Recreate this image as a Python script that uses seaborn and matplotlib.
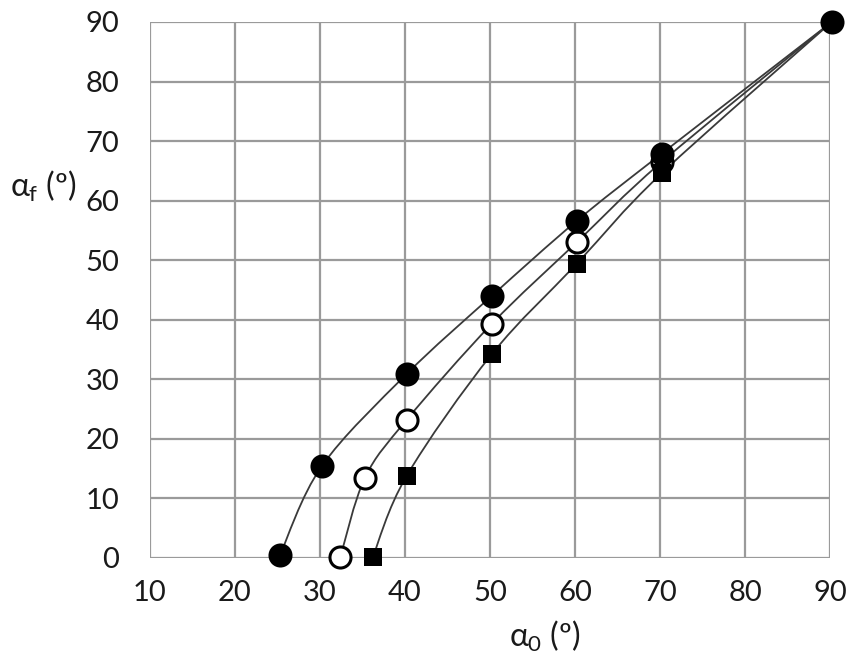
import numpy as np
import pandas as pd
import matplotlib
matplotlib.use('Agg')
import matplotlib.pyplot as plt
from matplotlib.path import Path
from matplotlib.patches import PathPatch
import seaborn as sns

# initial angle alpha_0 and final angle alpha_f (degrees)
a0_filled = [25.3, 30.2, 40.2, 50.2, 60.2, 70.2, 90.2]
af_filled = [0.5, 15.4, 30.9, 44.0, 56.6, 67.9, 90.0]

a0_open = [32.4, 35.3, 40.2, 50.2, 60.2, 70.2, 90.2]
af_open = [0.2, 13.5, 23.2, 39.3, 53.0, 66.5, 90.0]

a0_square = [36.2, 40.2, 50.2, 60.2, 70.2, 90.2]
af_square = [0.1, 13.8, 34.2, 49.4, 64.6, 90.0]

x_ticks = [10, 20, 30, 40, 50, 60, 70, 80, 90]
y_ticks = [0, 10, 20, 30, 40, 50, 60, 70, 80, 90]


def smooth_path(xs, ys):
    # Excel-style smoothed line: cubic Bezier with 1/6 tangents
    p = np.column_stack([xs, ys])
    n = len(p)
    verts = [p[0]]
    codes = [Path.MOVETO]
    for i in range(n - 1):
        prev = p[i - 1] if i > 0 else p[i]
        nxt = p[i + 2] if i + 2 < n else p[i + 1]
        c1 = p[i] + (p[i + 1] - prev) / 6.0
        c2 = p[i + 1] - (nxt - p[i]) / 6.0
        verts += [c1, c2, p[i + 1]]
        codes += [Path.CURVE4] * 3
    return Path(verts, codes)


sns.set_theme(style="white")
plt.rcParams['font.family'] = ['Lato', 'DejaVu Sans']
plt.rcParams['mathtext.fontset'] = 'custom'
plt.rcParams['mathtext.rm'] = 'Lato'
plt.rcParams['mathtext.it'] = 'Lato'

fig = plt.figure(figsize=(8.58, 6.66), dpi=100)
ax = fig.add_axes([0.1748, 0.1622, 0.7926, 0.8048])

for xs, ys in [(a0_filled, af_filled), (a0_open, af_open), (a0_square, af_square)]:
    ax.add_patch(PathPatch(smooth_path(xs, ys), facecolor='none',
                           edgecolor='#3a3a3a', lw=1.3, zorder=2, clip_on=False))

df_f = pd.DataFrame({'a0': a0_filled, 'af': af_filled})
df_o = pd.DataFrame({'a0': a0_open, 'af': af_open})
df_s = pd.DataFrame({'a0': a0_square, 'af': af_square})

sns.scatterplot(data=df_f, x='a0', y='af', ax=ax, marker='o', s=300,
                color='black', edgecolor='black', linewidth=0, zorder=4)
sns.scatterplot(data=df_o[:-1], x='a0', y='af', ax=ax, marker='o', s=230,
                facecolor='white', edgecolor='black', linewidth=2.2, zorder=3)
sns.scatterplot(data=df_s[:-1], x='a0', y='af', ax=ax, marker='s', s=170,
                color='black', edgecolor='black', linewidth=0, zorder=3)
for coll in ax.collections:
    coll.set_clip_on(False)

ax.set_xlim(10, 90)
ax.set_ylim(0, 90)
ax.set_xticks(x_ticks)
ax.set_yticks(y_ticks)
ax.grid(True, color='#9a9a9a', lw=1.6)
for s in ax.spines.values():
    s.set_visible(False)
ax.tick_params(axis='x', length=0, labelsize=21, colors='#1a1a1a', pad=16)
ax.tick_params(axis='y', length=0, labelsize=21, colors='#1a1a1a', pad=22)
ax.set_xlabel('')
ax.set_ylabel('')

fig.text(0.635, 0.045, r'$\alpha_0$ (º)', fontsize=23, ha='center', va='center', color='#1a1a1a')
fig.text(0.012, 0.72, r'$\alpha_{\rm f}$ (º)', fontsize=23, ha='left', va='center', color='#1a1a1a')

fig.savefig('out.png', dpi=100)
